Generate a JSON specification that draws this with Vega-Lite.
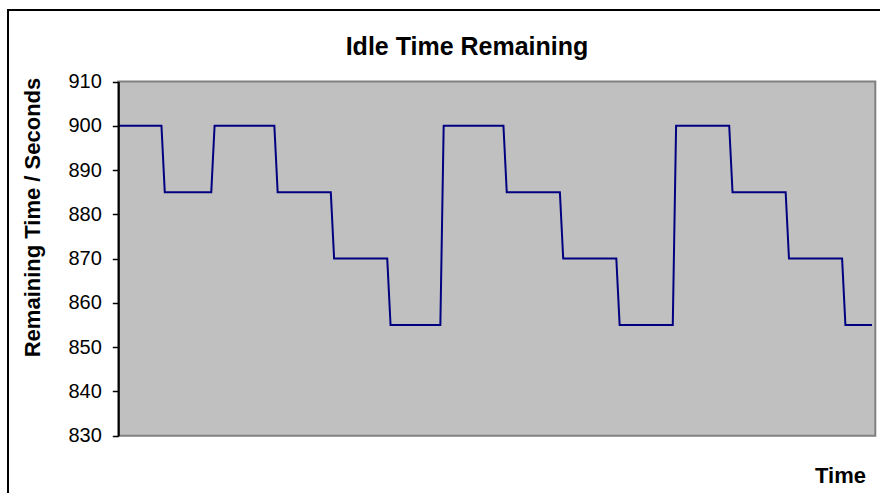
{
  "$schema": "https://vega.github.io/schema/vega-lite/v6.json",
  "autosize": "none",
  "padding": {"left": 8, "top": 10, "right": -10, "bottom": -17},
  "width": 882,
  "height": 500,
  "background": "white",
  "config": {
    "font": "Liberation Sans",
    "view": {"stroke": "#000000", "strokeWidth": 2, "fill": "white"}
  },
  "title": {
    "text": "Idle Time Remaining",
    "anchor": "middle",
    "frame": "group",
    "fontSize": 25,
    "fontWeight": "bold",
    "color": "#000000",
    "baseline": "middle",
    "offset": 0,
    "dy": 62,
    "dx": 18
  },
  "layer": [
    {
      "data": {"values": [{}]},
      "mark": {"type": "rect", "fill": "#C0C0C0", "stroke": "#808080", "strokeWidth": 2},
      "encoding": {
        "x": {
          "datum": 0,
          "type": "quantitative",
          "scale": {"domain": [0, 228], "range": [110.3, 867.3]},
          "axis": {
            "orient": "bottom",
            "offset": -74.3,
            "domain": false,
            "ticks": false,
            "labels": false,
            "grid": false,
            "title": "Time",
            "titleFontSize": 22,
            "titleFontWeight": "bold",
            "titleColor": "#000000",
            "titleX": 832,
            "titleY": 40,
            "titleAlign": "center",
            "titleBaseline": "middle",
            "titleAngle": 0
          }
        },
        "x2": {"datum": 228},
        "y": {
          "datum": 830,
          "type": "quantitative",
          "scale": {"domain": [830, 910], "range": [425.7, 71.5]},
          "axis": {
            "orient": "left",
            "offset": -110.3,
            "values": [830, 840, 850, 860, 870, 880, 890, 900, 910],
            "grid": false,
            "domainColor": "#000000",
            "domainWidth": 2,
            "tickColor": "#000000",
            "tickWidth": 1.5,
            "tickSize": 6,
            "labelFontSize": 20,
            "labelColor": "#000000",
            "labelPadding": 11,
            "labelOverlap": false,
            "labelFlush": false,
            "title": "Remaining Time / Seconds",
            "titleFontSize": 22,
            "titleFontWeight": "bold",
            "titleColor": "#000000",
            "titleX": -86,
            "titleY": 207,
            "titleAngle": -90,
            "titleAlign": "center",
            "titleBaseline": "middle",
            "zindex": 1
          }
        },
        "y2": {"datum": 910}
      }
    },
    {
      "data": {
        "values": [
          {"t": 0, "v": 900}, {"t": 13, "v": 900}, {"t": 14, "v": 885}, {"t": 28, "v": 885},
          {"t": 29, "v": 900}, {"t": 47, "v": 900}, {"t": 48, "v": 885}, {"t": 64, "v": 885},
          {"t": 65, "v": 870}, {"t": 81, "v": 870}, {"t": 82, "v": 855}, {"t": 97, "v": 855},
          {"t": 98, "v": 900}, {"t": 116, "v": 900}, {"t": 117, "v": 885}, {"t": 133, "v": 885},
          {"t": 134, "v": 870}, {"t": 150, "v": 870}, {"t": 151, "v": 855}, {"t": 167, "v": 855},
          {"t": 168, "v": 900}, {"t": 184, "v": 900}, {"t": 185, "v": 885}, {"t": 201, "v": 885},
          {"t": 202, "v": 870}, {"t": 218, "v": 870}, {"t": 219, "v": 855}, {"t": 227, "v": 855}
        ]
      },
      "mark": {"type": "line", "color": "#000080", "strokeWidth": 2},
      "encoding": {
        "x": {
          "field": "t",
          "type": "quantitative",
          "scale": {"domain": [0, 228], "range": [110.3, 867.3]},
          "axis": {
            "orient": "bottom",
            "offset": -74.3,
            "domain": false,
            "ticks": false,
            "labels": false,
            "grid": false,
            "title": "Time",
            "titleFontSize": 22,
            "titleFontWeight": "bold",
            "titleColor": "#000000",
            "titleX": 832,
            "titleY": 40,
            "titleAlign": "center",
            "titleBaseline": "middle",
            "titleAngle": 0
          }
        },
        "y": {
          "field": "v",
          "type": "quantitative",
          "scale": {"domain": [830, 910], "range": [425.7, 71.5]},
          "axis": {
            "orient": "left",
            "offset": -110.3,
            "values": [830, 840, 850, 860, 870, 880, 890, 900, 910],
            "grid": false,
            "domainColor": "#000000",
            "domainWidth": 2,
            "tickColor": "#000000",
            "tickWidth": 1.5,
            "tickSize": 6,
            "labelFontSize": 20,
            "labelColor": "#000000",
            "labelPadding": 11,
            "labelOverlap": false,
            "labelFlush": false,
            "title": "Remaining Time / Seconds",
            "titleFontSize": 22,
            "titleFontWeight": "bold",
            "titleColor": "#000000",
            "titleX": -86,
            "titleY": 207,
            "titleAngle": -90,
            "titleAlign": "center",
            "titleBaseline": "middle",
            "zindex": 1
          }
        }
      }
    }
  ]
}
